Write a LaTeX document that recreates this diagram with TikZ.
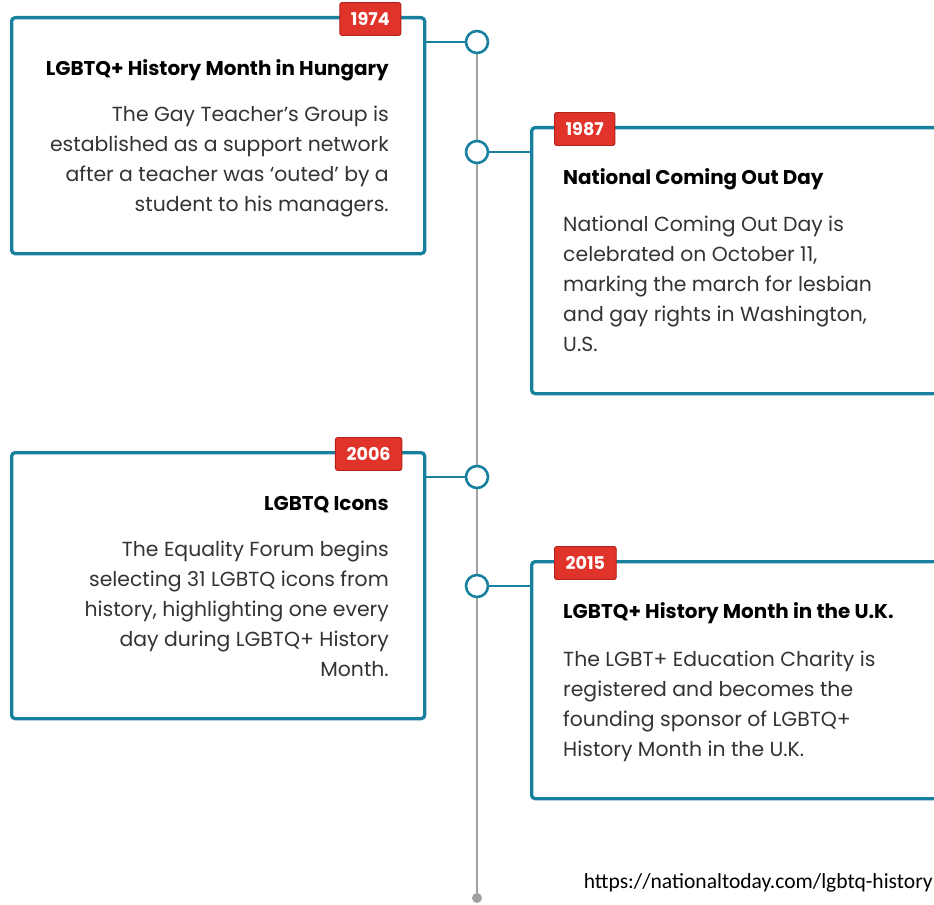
\documentclass[tikz,border=0pt]{standalone}
\usepackage{fontspec}
\setmainfont{Poppins}
\newfontfamily\urlfont{Carlito}
\usetikzlibrary{positioning}
\definecolor{tlteal}{HTML}{17809F}
\definecolor{tlred}{HTML}{E0332A}
\definecolor{tlreddark}{HTML}{B42018}
\definecolor{tlgray}{HTML}{A0A0A0}
\definecolor{tlbody}{HTML}{333333}
\tikzstyle{card} = [rectangle, rounded corners=3pt, draw=tlteal, line width=2.8pt, fill=white, anchor=north west, inner sep=0pt]
\tikzstyle{year} = [rectangle, rounded corners=2pt, fill=tlred, draw=tlreddark, line width=0.8pt, text=white, font=\bfseries\fontsize{15}{15}\selectfont, minimum height=33*0.03cm, inner xsep=9.5pt, inner ysep=0pt]
\tikzstyle{dot} = [circle, draw=tlteal, line width=2.2pt, fill=white, minimum size=22*0.03cm, inner sep=0pt]
\tikzstyle{taildot} = [circle, fill=tlgray, minimum size=10*0.03cm, inner sep=0pt]
\tikzstyle{spine} = [draw=tlgray, line width=2pt]
\tikzstyle{link} = [draw=tlteal, line width=2pt]
\tikzstyle{heading} = [font=\bfseries\fontsize{17}{20}\selectfont, text=black, inner sep=0pt]
\tikzstyle{body} = [font=\fontsize{17.4}{25.5}\selectfont, text=tlbody, inner sep=0pt]
\begin{document}
\begin{tikzpicture}[x=0.03cm, y=-0.03cm]
    \useasboundingbox (0,0) rectangle (934,904);
    \clip (0,0) rectangle (934,904);

    % timeline
    \coordinate (top) at (477,42);
    \node(tail)[taildot] at (477,898) {};
    \draw[spine] (top) -- (tail);

    \node(d1)[dot] at (477,42) {};
    \node(d2)[dot] at (477,152) {};
    \node(d3)[dot] at (477,477) {};
    \node(d4)[dot] at (477,586) {};

    % cards
    \node(box1)[card, minimum width=413*0.03cm, minimum height=236*0.03cm] at (10,16) {};
    \node(box2)[card, minimum width=440*0.03cm, minimum height=266*0.03cm] at (530,126) {};
    \node(box3)[card, minimum width=413*0.03cm, minimum height=266*0.03cm] at (10,451) {};
    \node(box4)[card, minimum width=440*0.03cm, minimum height=237*0.03cm] at (530,560) {};

    \draw[link] (d1) -- (d1 -| box1.east);
    \draw[link] (d2) -- (d2 -| box2.west);
    \draw[link] (d3) -- (d3 -| box3.east);
    \draw[link] (d4) -- (d4 -| box4.west);

    % year badges
    \node(y1)[year, anchor=east] at ([xshift=-25*0.03cm, yshift=-3*0.03cm]box1.north east) {1974};
    \node(y2)[year, anchor=west] at ([xshift=24*0.03cm, yshift=-3*0.03cm]box2.north west) {1987};
    \node(y3)[year, anchor=east] at ([xshift=-24*0.03cm, yshift=-3*0.03cm]box3.north east) {2006};
    \node(y4)[year, anchor=west] at ([xshift=24*0.03cm, yshift=-3*0.03cm]box4.north west) {2015};

    % texts
    \node(h1)[heading, anchor=base east] at (389,76) {LGBTQ+ History Month in Hungary};
    \node(b1)[body, align=right, anchor=north east] at (389,106) {The Gay Teacher’s Group is\\established as a support network\\after a teacher was ‘outed’ by a\\student to his managers.};

    \node(h2)[heading, anchor=base west] at (563,185) {National Coming Out Day};
    \node(b2)[body, align=left, anchor=north west] at (563,216) {National Coming Out Day is\\celebrated on October 11,\\marking the march for lesbian\\and gay rights in Washington,\\U.S.};

    \node(h3)[heading, anchor=base east] at (389,510) {LGBTQ Icons};
    \node(b3)[body, align=right, anchor=north east] at (389,541) {The Equality Forum begins\\selecting 31 LGBTQ icons from\\history, highlighting one every\\day during LGBTQ+ History\\Month.};

    \node(h4)[heading, anchor=base west] at (563,618) {LGBTQ+ History Month in the U.K.};
    \node(b4)[body, align=left, anchor=north west] at (563,651) {The LGBT+ Education Charity is\\registered and becomes the\\founding sponsor of LGBTQ+\\History Month in the U.K.};

    \node(src)[anchor=base east, inner sep=0pt, font=\urlfont\fontsize{18.4}{22}\selectfont] at (933,888) {https://nationaltoday.com/lgbtq-history};
\end{tikzpicture}
\end{document}
